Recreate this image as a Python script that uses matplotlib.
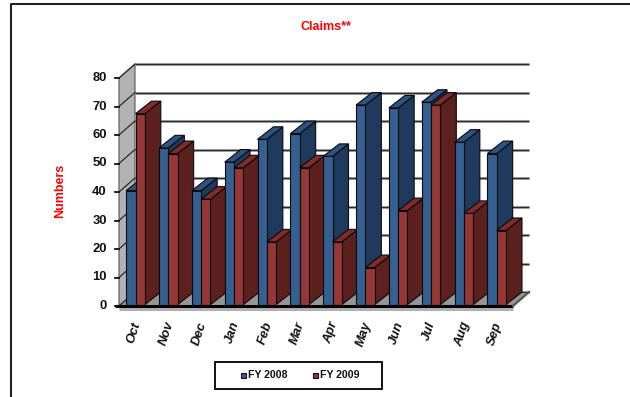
import matplotlib
matplotlib.use("Agg")
import matplotlib.pyplot as plt
from matplotlib.patches import Polygon, Rectangle

months = ["Oct", "Nov", "Dec", "Jan", "Feb", "Mar", "Apr", "May", "Jun", "Jul", "Aug", "Sep"]
fy2008 = [40, 55, 40, 50, 58, 60, 52, 70, 69, 71, 57, 53]
fy2009 = [67, 53, 37, 48, 22, 48, 22, 13, 33, 70, 32, 26]
yticks = [0, 10, 20, 30, 40, 50, 60, 70, 80]

W, H = 630, 397
plt.rcParams["font.family"] = ["Liberation Sans", "DejaVu Sans"]

fig = plt.figure(figsize=(W / 100, H / 100), dpi=100)

# frame of the whole chart, figure coordinates in pixels (open on the right)
bg = fig.add_axes([0, 0, 1, 1])
bg.set_xlim(0, W)
bg.set_ylim(H, 0)
bg.axis("off")
bg.plot([11, 11, 630], [397, 3.5, 3.5], color="#222222", lw=1.5)

# plot area: one x unit is a month, one y unit is a claim
left, right, bottom, top = 119, 513, 306, 78
ax = fig.add_axes([left / W, 1 - bottom / H, (right - left) / W, (bottom - top) / H])
ax.set_xlim(0, 12)
ax.set_ylim(0, 80)
ax.axis("off")

# depth of the 3d effect, in data units
xunit = (right - left) / 12
yunit = (bottom - top) / 80
dx = 16 / xunit
dy = 14 / yunit
# bars are a little shallower than the floor and set back from its front edge
bar_dy = 12.5 / yunit
lift = 1.4 / yunit

BLUE = ("#366092", "#1f3a5c", "#2d5384")
RED = ("#953735", "#5c201e", "#7f2c2a")
WALL = "#b2b2b2"
FLOOR = "#969696"


def poly(points, color, z=2, lw=0.8, edge="#0a0a0a"):
    ax.add_patch(Polygon(points, closed=True, facecolor=color, edgecolor=edge,
                         lw=lw, clip_on=False, zorder=z))


# side wall and floor
poly([(0, 0), (dx, dy), (dx, 80 + dy), (0, 80)], WALL, z=1, lw=0.8, edge="#555555")
poly([(0, 0), (12, 0), (12 + dx, dy), (dx, dy)], FLOOR, z=1, lw=0, edge="none")

# gridlines along the wall and the back
for v in yticks:
    ax.plot([dx, 12 + dx], [v + dy, v + dy], color="#b5b5b5", lw=2.2, zorder=1.2,
            clip_on=False, solid_capstyle="butt")
    ax.plot([dx, 12 + dx], [v + dy, v + dy], color="#2a2a2a", lw=1.0, zorder=1.3,
            clip_on=False, solid_capstyle="butt")
    ax.plot([0, dx], [v, v + dy], color="#2a2a2a", lw=0.9, zorder=1.3, clip_on=False)
    ax.plot([-0.11, 0], [v, v], color="#111111", lw=1.3, zorder=5, clip_on=False)
    ax.text(-0.37, v, str(v), ha="right", va="center", fontsize=9.4, fontweight="bold",
            color="#111111", clip_on=False)

# bars, drawn left to right so nearer faces cover the sides behind them
bar_w = 9.3 / xunit
z = 3
for i, (a, b) in enumerate(zip(fy2008, fy2009)):
    x0 = i + 7.2 / xunit
    for xb, val, (front, side, cap) in ((x0, a, BLUE), (x0 + bar_w, b, RED)):
        xe = xb + bar_w
        y0, y1 = lift, val + lift
        poly([(xe, y0), (xe + dx, y0 + bar_dy), (xe + dx, y1 + bar_dy), (xe, y1)], side, z)
        poly([(xb, y1), (xe, y1), (xe + dx, y1 + bar_dy), (xb + dx, y1 + bar_dy)], cap, z)
        poly([(xb, y0), (xe, y0), (xe, y1), (xb, y1)], front, z)
        z += 1
    ax.text(i + 0.45, -5.0, months[i], rotation=72, ha="center", va="top", fontsize=9.4,
            fontweight="bold", fontstyle="italic", color="#111111", clip_on=False)

# base line with its grey shadow
ax.plot([0, 12], [-0.9, -0.9], color="#b0b0b0", lw=2.2, zorder=39, clip_on=False,
        solid_capstyle="butt")
ax.plot([-0.11, 12], [0.15, 0.15], color="#000000", lw=2.2, zorder=40, clip_on=False,
        solid_capstyle="butt")
ax.plot([12, 12 + dx], [0, dy], color="#555555", lw=1.6, zorder=40, clip_on=False)

# titles
bg.text(325.5, 27.5, "Claims**", ha="center", va="center", fontsize=9, fontweight="bold",
        color="#ff0000")
bg.text(60.5, 191, "Numbers", rotation=90, ha="center", va="center", fontsize=9,
        fontweight="bold", color="#ff0000")

# legend box
bg.add_patch(Rectangle((214.5, 362), 167, 27, facecolor="white", edgecolor="#111111", lw=1.4))
bg.add_patch(Rectangle((240.5, 373), 5, 5, facecolor=BLUE[0], edgecolor="#111111", lw=0.8))
bg.add_patch(Rectangle((313, 373), 5, 5, facecolor=RED[0], edgecolor="#111111", lw=0.8))
bg.text(247.5, 375.5, "FY 2008", ha="left", va="center", fontsize=7.6, fontweight="bold",
        color="#111111")
bg.text(320, 375.5, "FY 2009", ha="left", va="center", fontsize=7.6, fontweight="bold",
        color="#111111")

fig.savefig("out.png", dpi=100)
